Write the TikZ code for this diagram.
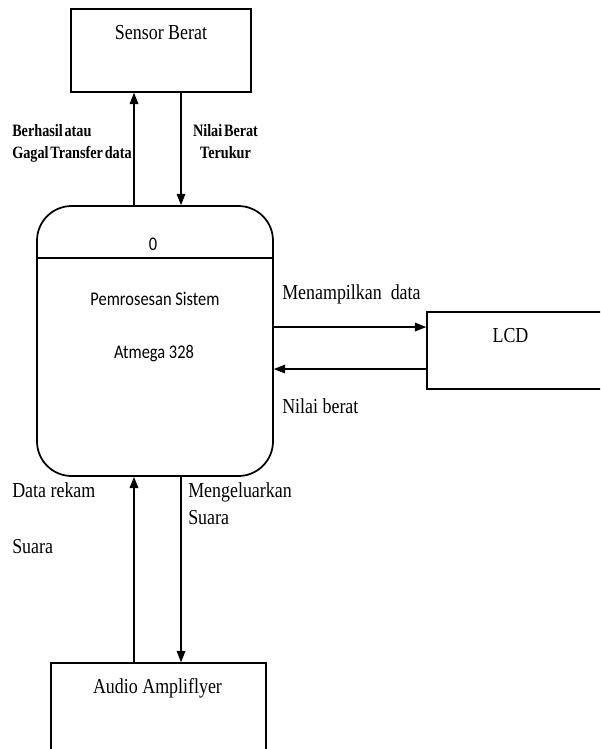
\documentclass[tikz,border=0pt]{standalone}
\usepackage{fontspec}
\setmainfont{Liberation Serif}[FakeStretch=0.84]
\newfontfamily\calfont{Carlito}[FakeStretch=0.85]
\newfontfamily\flowfont{Liberation Serif}[FakeStretch=0.82,WordSpace=0.5]
\usetikzlibrary{positioning,calc,arrows.meta}

\begin{document}
\begin{tikzpicture}[x=0.75pt, y=-0.75pt,
    font=\fontsize{16}{20.25}\selectfont,
    ent/.style={draw, line width=1.1pt, inner sep=0pt},
    proc/.style={draw, line width=1.3pt, rounded corners=26pt, inner sep=0pt},
    flow/.style={-{Triangle[length=8.5pt,width=6.5pt]}, line width=0.9pt},
    lbl/.style={inner sep=0pt, anchor=base west, align=left},
    blbl/.style={inner sep=0pt, anchor=base, align=center,
                 font=\flowfont\bfseries\fontsize{13}{16.2}\selectfont},
    ptxt/.style={inner sep=0pt, anchor=base, font=\calfont\fontsize{14.5}{18}\selectfont}]
  \useasboundingbox (0,0) rectangle (600,749);
  \clip (0,0) rectangle (600,749);

  % entities and process
  \node[ent, minimum width=135pt, minimum height=62.25pt] (sensor) at (161,50.5) {};
  \node[ent, minimum width=144.75pt, minimum height=57.75pt] (lcd) at (523.5,350.5) {};
  \node[ent, minimum width=161.25pt, minimum height=87.75pt] (audio) at (158.5,721.5) {};
  \node[proc, minimum width=177pt, minimum height=202.5pt] (proc) at (155,341) {};
  \draw[line width=1pt] ([yshift=-39.75pt]proc.north west) -- ([yshift=-39.75pt]proc.north east);

  % texts inside the boxes
  \node[inner sep=0pt, anchor=base] (sensor-txt) at (161,40) {Sensor Berat};
  \node[inner sep=0pt, anchor=base] (lcd-txt) at (510.5,342) {LCD};
  \node[inner sep=0pt, anchor=base] (audio-txt) at (157.5,693) {Audio Ampliflyer};
  \node[ptxt] (proc-id) at (153,250) {0};
  \node[ptxt] (proc-name) at (155,305) {Pemrosesan Sistem};
  \node[ptxt] (proc-chip) at (154,358) {Atmega 328};

  % data flows
  \coordinate (s-up) at ([xshift=-20.25pt]sensor.south);
  \coordinate (s-dn) at ([xshift=15pt]sensor.south);
  \draw[flow] (s-up |- proc.north) -- (s-up);
  \draw[flow] (s-dn) -- (s-dn |- proc.north);
  \coordinate (l-in) at ([yshift=17.6pt]lcd.west);
  \coordinate (l-out) at ([yshift=-13.9pt]lcd.west);
  \draw[flow] (l-in -| proc.east) -- (l-in);
  \draw[flow] (l-out) -- (l-out -| proc.east);
  \coordinate (a-up) at ([xshift=-18.4pt]audio.north);
  \coordinate (a-dn) at ([xshift=16.9pt]audio.north);
  \draw[flow, line width=1.3pt] (a-up) -- (a-up |- proc.south);
  \draw[flow] (a-dn |- proc.south) -- (a-dn);

  % flow labels (base = last line)
  \node[blbl, anchor=base west, align=left] (f-status) at (12,158.3) {Berhasil atau\\Gagal Transfer data};
  \node[blbl] (f-weight) at (225.5,158.3) {Nilai Berat\\Terukur};
  \node[lbl] (f-show) at (282,299) {Menampilkan\ \ data};
  \node[lbl] (f-value) at (282,413) {Nilai berat};
  \node[lbl] (f-rec) at (12,553) {Data rekam\\[21.75pt]Suara};
  \node[lbl] (f-sound) at (188,524) {Mengeluarkan\\Suara};
\end{tikzpicture}
\end{document}
